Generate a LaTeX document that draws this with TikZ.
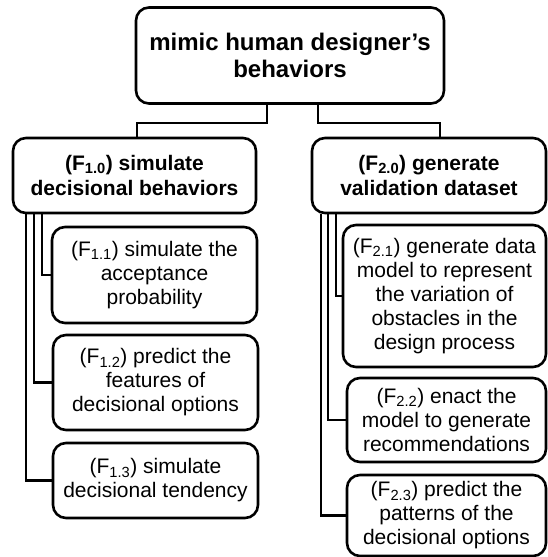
\documentclass[tikz,border=0pt]{standalone}
\usepackage{fontspec}
\setmainfont{Liberation Sans}
\usepackage{tikz}
\usetikzlibrary{positioning, calc}

\begin{document}
\begin{tikzpicture}[x=1pt, y=-1pt,
    box/.style={draw, line width=2.6pt, rounded corners=13pt, align=center, inner sep=0pt},
    rootbox/.style={box, font=\fontsize{24}{27}\selectfont\bfseries},
    headbox/.style={box, font=\fontsize{21}{24.5}\selectfont\bfseries},
    taskbox/.style={box, font=\fontsize{21}{24}\selectfont},
    link/.style={line width=2.4pt}]
    \useasboundingbox (0,0) rectangle (548,557);
    \node[rootbox, minimum width=308pt, minimum height=96pt] (root) at (290,55.5) {mimic human designer’s\\behaviors};
    \node[headbox, minimum width=243pt, minimum height=75pt] (simul) at (134.5,175.5) {(F\textsubscript{1.0}) simulate\\decisional behaviors};
    \node[headbox, minimum width=234pt, minimum height=75pt] (gener) at (429,175.5) {(F\textsubscript{2.0}) generate\\validation dataset};
    \node[taskbox, minimum width=205pt, minimum height=96pt] (accept) at (154.5,275) {(F\textsubscript{1.1}) simulate the\\acceptance\\probability};
    \node[taskbox, minimum width=205pt, minimum height=95pt] (feature) at (155.5,382.5) {(F\textsubscript{1.2}) predict the\\features of\\decisional options};
    \node[taskbox, minimum width=205pt, minimum height=75pt] (tendency) at (155.5,480.5) {(F\textsubscript{1.3}) simulate\\decisional tendency};
    \node[taskbox, minimum width=203pt, minimum height=142pt] (datamodel) at (444.5,296) {(F\textsubscript{2.1}) generate data\\model to represent\\the variation of\\obstacles in the\\design process};
    \node[taskbox, minimum width=199pt, minimum height=84pt] (enact) at (446.5,420) {(F\textsubscript{2.2}) enact the\\model to generate\\recommendations};
    \node[taskbox, minimum width=199pt, minimum height=81pt] (pattern) at (446.5,515.5) {(F\textsubscript{2.3}) predict the\\patterns of the\\decisional options};
    % top level
    \draw[link] ([xshift=-23pt]root.south) -- ++(0,18) -| ([xshift=2.5pt]simul.north);
    \draw[link] ([xshift=28pt]root.south) -- ++(0,18) -| ([xshift=11pt]gener.north);
    % sub tasks
    \draw[link] ([xshift=30pt]simul.south west) |- (accept.west);
    \draw[link] ([xshift=22pt]simul.south west) |- (feature.west);
    \draw[link] ([xshift=14pt]simul.south west) |- (tendency.west);
    \draw[link] ([xshift=25pt]gener.south west) |- (datamodel.west);
    \draw[link] ([xshift=17pt]gener.south west) |- (enact.west);
    \draw[link] ([xshift=10pt]gener.south west) |- (pattern.west);
\end{tikzpicture}
\end{document}
